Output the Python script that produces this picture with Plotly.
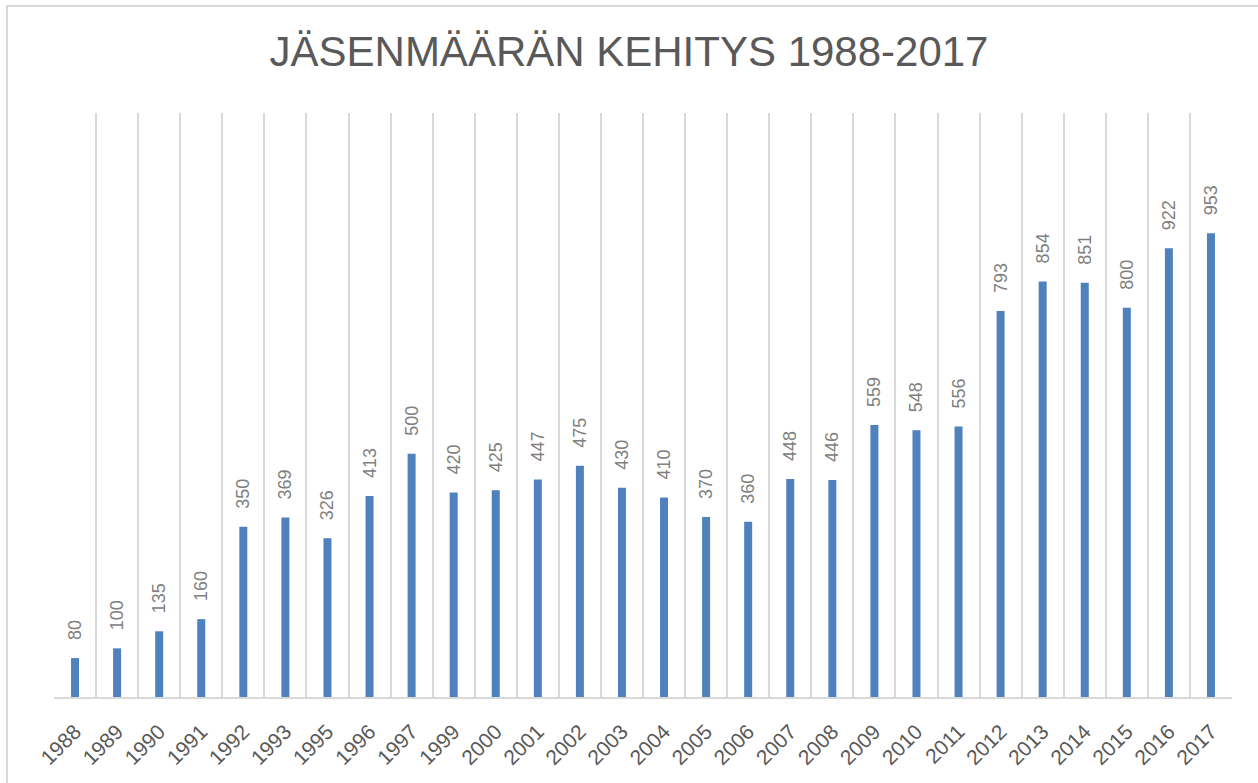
import plotly.graph_objects as go

years = ["1988", "1989", "1990", "1991", "1992", "1993", "1995", "1996", "1997",
         "1999", "2000", "2001", "2002", "2003", "2004", "2005", "2006", "2007",
         "2008", "2009", "2010", "2011", "2012", "2013", "2014", "2015", "2016", "2017"]
members = [80, 100, 135, 160, 350, 369, 326, 413, 500, 420, 425, 447, 475, 430,
           410, 370, 360, 448, 446, 559, 548, 556, 793, 854, 851, 800, 922, 953]
title_text = "JÄSENMÄÄRÄN KEHITYS 1988-2017"

TITLE_FONT = "Liberation Sans, Arial, sans-serif"
LABEL_FONT = "Liberation Sans, Arial, sans-serif"

fig = go.Figure()
fig.add_trace(go.Bar(
    x=years, y=members,
    marker=dict(color="#4F81BD", line=dict(width=0)),
    texttemplate="\u00a0\u00a0\u00a0%{y}",
    textposition="outside",
    textangle=-90,
    constraintext="none",
    cliponaxis=False,
    textfont=dict(family=LABEL_FONT, size=18, color="#808080"),
    hoverinfo="x+y",
))

fig.update_layout(
    width=1258, height=783,
    margin=dict(l=54, r=26, t=113, b=86),
    paper_bgcolor="white", plot_bgcolor="white",
    bargap=0.81,
    showlegend=False,
    uniformtext=dict(minsize=18, mode="show"),
    title=dict(text=title_text, x=0.5, xanchor="center", y=0.935, yanchor="middle",
               font=dict(family=TITLE_FONT, size=42, color="#595959")),
    xaxis=dict(type="category", tickson="boundaries", showgrid=True,
               gridcolor="#D9D9D9", gridwidth=1.5, showline=True,
               linecolor="#D9D9D9", linewidth=2, ticks="",
               tickangle=-45, ticklabelstandoff=12,
               tickfont=dict(family=LABEL_FONT, size=21, color="#595959")),
    yaxis=dict(range=[0, 1200], showgrid=False, showticklabels=False,
               zeroline=False, showline=False),
    shapes=[dict(type="rect", xref="paper", yref="paper",
                 x0=-0.0399, x1=1.03, y0=-0.16, y1=1.1832,
                 line=dict(color="#D9D9D9", width=2), layer="above")],
)

fig.write_html("out.html",
               config={"displayModeBar": False},
               post_script="document.body.style.margin='0';")
